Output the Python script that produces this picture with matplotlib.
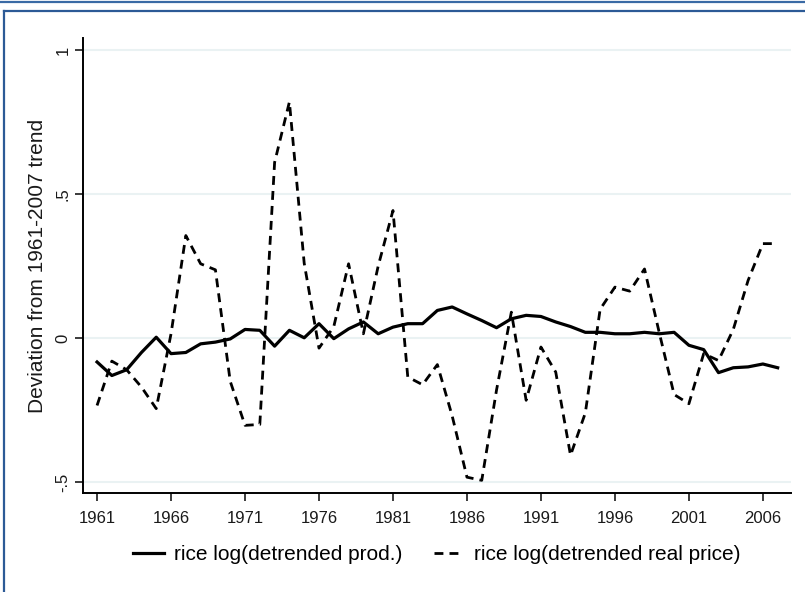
import matplotlib
matplotlib.use("Agg")
import matplotlib.pyplot as plt
from matplotlib.lines import Line2D

plt.rcParams['font.family'] = ['Liberation Sans', 'DejaVu Sans']

# data
years = list(range(1961, 2008))
prod = [-0.083, -0.13, -0.11, -0.05, 0.003, -0.054, -0.05, -0.02, -0.014, -0.003,
        0.03, 0.027, -0.028, 0.027, 0.001, 0.05, -0.002, 0.032, 0.056, 0.015,
        0.038, 0.05, 0.05, 0.096, 0.108, 0.084, 0.061, 0.036, 0.067, 0.079,
        0.075, 0.056, 0.04, 0.02, 0.02, 0.015, 0.015, 0.02, 0.015, 0.02,
        -0.025, -0.04, -0.12, -0.103, -0.1, -0.09, -0.103]
price = [-0.234, -0.08, -0.11, -0.17, -0.245, 0.015, 0.356, 0.258, 0.237, -0.15,
         -0.303, -0.30, 0.61, 0.82, 0.26, -0.035, 0.04, 0.258, 0.015, 0.25,
         0.443, -0.135, -0.162, -0.092, -0.27, -0.483, -0.494, -0.18, 0.09, -0.216,
         -0.031, -0.118, -0.407, -0.26, 0.1, 0.177, 0.163, 0.24, 0.018, -0.196,
         -0.228, -0.054, -0.078, 0.03, 0.2, 0.328, 0.328]
xticks = [1961, 1966, 1971, 1976, 1981, 1986, 1991, 1996, 2001, 2006]
yticks = [-0.5, 0, 0.5, 1]
ytick_labels = ["-.5", "0", ".5", "1"]
labels = ["rice log(detrended prod.)", "rice log(detrended real price)"]

fig = plt.figure(figsize=(8.05, 5.92), dpi=100)
ax = fig.add_axes([0.1031, 0.1672, 0.8795, 0.7686])

ax.plot(years, prod, color="black", lw=2.3, label=labels[0])
ax.plot(years, price, color="black", lw=2.0, linestyle=(0, (3.2, 2.2)), label=labels[1])

ax.set_xlim(1960.05, 2007.9)
ax.set_ylim(-0.538, 1.042)
ax.set_xticks(xticks)
ax.set_yticks(yticks)
ax.set_yticklabels(ytick_labels, rotation=90, va="center")
for t in yticks:
    ax.axhline(t, color="#eaf2f3", lw=1.5, zorder=0)

ax.spines["top"].set_visible(False)
ax.spines["right"].set_visible(False)
ax.spines["left"].set_linewidth(1.4)
ax.spines["bottom"].set_linewidth(1.4)
ax.tick_params(axis="both", length=6, width=1.2, labelsize=12, colors="#1a1a1a")
ax.tick_params(axis="y", pad=3)
ax.tick_params(axis="x", pad=7)
ax.set_ylabel("Deviation from 1961-2007 trend", fontsize=15, color="#1a1a1a", labelpad=6)

ax.legend(loc="center", bbox_to_anchor=(0.5, -0.136), ncol=2, frameon=False,
          fontsize=15, handlelength=1.45, handletextpad=0.5, columnspacing=1.5)

# blue frame round the picture
fig.add_artist(Line2D([0, 1], [1 - 2 / 592, 1 - 2 / 592], color="#3a6aa5", lw=1.6))
fig.add_artist(Line2D([4 / 805, 1], [1 - 11 / 592, 1 - 11 / 592], color="#2c5a96", lw=1.6))
fig.add_artist(Line2D([4 / 805, 4 / 805], [0, 1 - 11 / 592], color="#2c5a96", lw=1.6))

fig.savefig("out.png", dpi=100)
